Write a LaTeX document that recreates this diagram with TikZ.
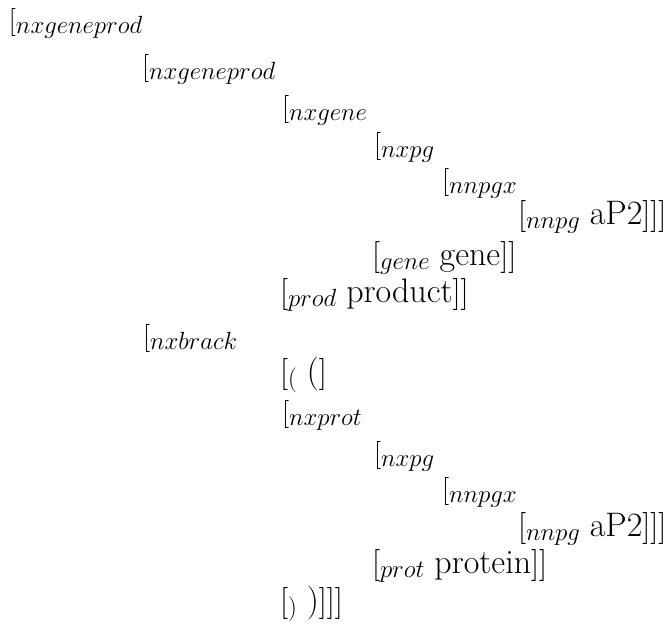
\documentclass[tikz,border=0pt]{standalone}
\usepackage{tikz}
\newcommand{\ntrow}[1]{{\fontsize{28}{34}\selectfont[}\raisebox{-4pt}{\fontsize{23.5}{28}\selectfont$#1$}}
\newcommand{\wdrow}[3]{{\fontsize{32}{38}\selectfont[}\raisebox{-4pt}{\fontsize{23.5}{28}\selectfont$#1$}\hspace{10pt}{\fontsize{34}{40}\selectfont #2}{\fontsize{32}{38}\selectfont #3}}
\tikzset{row/.style={inner sep=0pt, outer sep=0pt, anchor=base west}}
\begin{document}
\begin{tikzpicture}[x=1pt,y=1pt]
\useasboundingbox (0,0) rectangle (671,-623);
\node[row] (r1)  at (9,-30)   {\ntrow{nxgeneprod}};
\node[row] (r2)  at (142,-76) {\ntrow{nxgeneprod}};
\node[row] (r3)  at (282,-117) {\ntrow{nxgene}};
\node[row] (r4)  at (374,-153) {\ntrow{nxpg}};
\node[row] (r5)  at (442,-189) {\ntrow{nnpgx}};
\node[row] (r6)  at (518,-224) {\wdrow{nnpg}{aP2}{]]]}};
\node[row] (r7)  at (372,-265) {\wdrow{gene}{gene}{]]}};
\node[row] (r8)  at (280,-302) {\wdrow{prod}{product}{]]}};
\node[row] (r9)  at (143,-345) {\ntrow{nxbrack}};
\node[row] (r10) at (280,-382) {\wdrow{(}{(}{]}};
\node[row] (r11) at (282,-421) {\ntrow{nxprot}};
\node[row] (r12) at (374,-462) {\ntrow{nxpg}};
\node[row] (r13) at (442,-498) {\ntrow{nnpgx}};
\node[row] (r14) at (518,-536) {\wdrow{nnpg}{aP2}{]]]}};
\node[row] (r15) at (372,-573) {\wdrow{prot}{protein}{]]}};
\node[row] (r16) at (280,-611) {\wdrow{)}{)}{]]]}};
\end{tikzpicture}
\end{document}
